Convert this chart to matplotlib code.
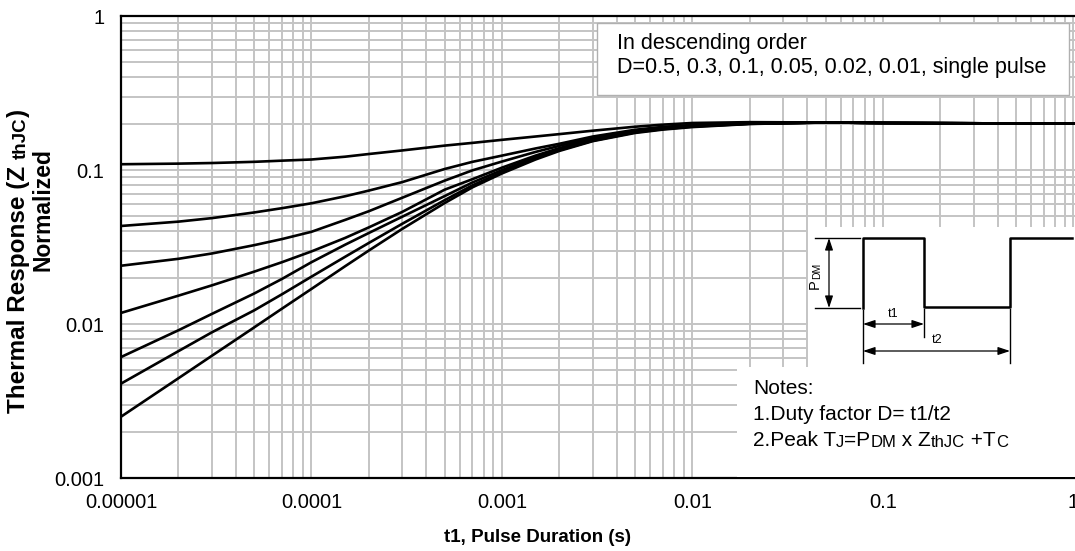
import matplotlib
matplotlib.use("Agg")
import matplotlib.pyplot as plt
from matplotlib.lines import Line2D
from matplotlib.patches import Rectangle, FancyArrowPatch

plt.rcParams['font.family'] = ['Liberation Sans', 'DejaVu Sans']

# pulse duration (s) and normalized Zth for each duty factor
t = [1e-5, 2e-5, 3e-5, 5e-5, 7e-5, 1e-4, 1.5e-4, 2e-4, 3e-4, 5e-4, 7e-4, 1e-3,
     1.5e-3, 2e-3, 3e-3, 5e-3, 7e-3, 1e-2, 2e-2, 5e-2, 1e-1, 1]
z_d05 = [0.109, 0.110, 0.111, 0.113, 0.115, 0.117, 0.122, 0.127, 0.134, 0.144, 0.150, 0.157,
         0.165, 0.171, 0.180, 0.191, 0.197, 0.202, 0.2045, 0.2035, 0.202, 0.200]
z_d03 = [0.0433, 0.0462, 0.0487, 0.0530, 0.0565, 0.0608, 0.0675, 0.0735, 0.0835, 0.1015, 0.113, 0.124,
         0.138, 0.148, 0.165, 0.1825, 0.1905, 0.196, 0.2015, 0.2035, 0.202, 0.200]
z_d01 = [0.0239, 0.0265, 0.0287, 0.0325, 0.0356, 0.0397, 0.0474, 0.054, 0.0661, 0.0853, 0.0995, 0.1135,
         0.131, 0.1435, 0.162, 0.1805, 0.189, 0.195, 0.201, 0.2035, 0.202, 0.200]
z_d005 = [0.0118, 0.01527, 0.01782, 0.02187, 0.0252, 0.0296, 0.0362, 0.0424, 0.0535, 0.0745, 0.0872, 0.1036,
          0.124, 0.1387, 0.159, 0.1785, 0.187, 0.1936, 0.2005, 0.2035, 0.202, 0.200]
z_d002 = [0.0061, 0.0091, 0.01163, 0.01577, 0.01962, 0.0252, 0.0327, 0.039, 0.0498, 0.0677, 0.083, 0.0998,
          0.1211, 0.1365, 0.157, 0.1768, 0.1856, 0.1923, 0.200, 0.2035, 0.202, 0.200]
z_d001 = [0.0041, 0.00666, 0.00883, 0.01226, 0.0156, 0.0203, 0.0273, 0.0336, 0.0448, 0.0637, 0.0795, 0.0969,
          0.1188, 0.1345, 0.155, 0.1755, 0.1845, 0.1915, 0.1995, 0.2035, 0.202, 0.200]
z_single = [0.0025, 0.00444, 0.00622, 0.0095, 0.01258, 0.0169, 0.0237, 0.0300, 0.0415, 0.061, 0.0772, 0.095,
            0.117, 0.133, 0.154, 0.174, 0.183, 0.190, 0.199, 0.2035, 0.202, 0.200]
curves = [z_d05, z_d03, z_d01, z_d005, z_d002, z_d001, z_single]

xticks = [1e-5, 1e-4, 1e-3, 1e-2, 1e-1, 1]
xlabels = ["0.00001", "0.0001", "0.001", "0.01", "0.1", "1"]
yticks = [0.001, 0.01, 0.1, 1]
ylabels = ["0.001", "0.01", "0.1", "1"]

W, H = 1075, 551
fig = plt.figure(figsize=(W / 100, H / 100), dpi=100)
ax = fig.add_axes([121 / W, 73 / H, 962 / W, 462 / H])


def px(x, y):
    return (x / W, 1 - y / H)


for z in curves:
    ax.plot(t, z, color='black', lw=1.9, zorder=3, solid_joinstyle='round')

ax.set_xscale('log')
ax.set_yscale('log')
ax.set_xlim(1e-5, 10 ** 0.05)
ax.set_ylim(1e-3, 1)
ax.set_xticks(xticks)
ax.set_xticklabels(xlabels)
ax.set_yticks(yticks)
ax.set_yticklabels(ylabels)
ax.tick_params(which='both', length=0, labelsize=14.5)
ax.tick_params(axis='x', pad=11)
ax.tick_params(axis='y', pad=12)
ax.grid(True, which='both', color='#c4c4c4', lw=1.4)
ax.set_axisbelow(True)
for s in ax.spines.values():
    s.set_linewidth(1.6)
    s.set_color('black')

# axis titles
fig.text(537 / W, 14 / H, "t1, Pulse Duration (s)", ha='center', va='center',
         fontsize=13.5, fontweight='bold')


def chain(pieces, x, y, rot=0, weight='normal', z=8):
    first = ax.text(x, y, pieces[0][0], transform=fig.transFigure, fontsize=pieces[0][1],
                    fontweight=weight, rotation=rot, zorder=z,
                    ha='right' if rot else 'left', va='bottom' if rot else 'baseline')
    prev = first
    for s, sz in pieces[1:]:
        if rot:
            prev = ax.annotate(s, xy=(1, 1), xycoords=prev, fontsize=sz, fontweight=weight,
                               rotation=rot, ha='right', va='bottom', zorder=z)
        else:
            prev = ax.annotate(s, xy=(1, 0), xycoords=prev, fontsize=sz, fontweight=weight,
                               ha='left', va='bottom', zorder=z)
    return first


chain([("Thermal Response (Z ", 17.5), ("thJC", 13.5), (")", 17.5)],
      *px(30, 413), rot=90, weight='bold')
fig.text(*px(43, 210), "Normalized", rotation=90, ha='center', va='center',
         fontsize=16.5, fontweight='bold')

# description box
ax.add_artist(Rectangle(px(597, 95), 472 / W, 72 / H, transform=fig.transFigure,
                        facecolor='white', edgecolor='#b0b0b0', lw=1, zorder=5))
ax.text(*px(617, 43), "In descending order", transform=fig.transFigure,
        fontsize=15.5, va='center', zorder=8)
ax.text(*px(617, 68), "D=0.5, 0.3, 0.1, 0.05, 0.02, 0.01, single pulse",
        transform=fig.transFigure, fontsize=15.5, va='center', zorder=8)

# white areas for the pulse sketch and notes
ax.add_artist(Rectangle(px(808, 367), 270 / W, 140 / H, transform=fig.transFigure,
                        facecolor='white', edgecolor='none', zorder=5))
ax.add_artist(Rectangle(px(737, 476.5), 340 / W, 110 / H, transform=fig.transFigure,
                        facecolor='white', edgecolor='none', zorder=5))


def seg(points, lw=1.0):
    xs = [p[0] / W for p in points]
    ys = [1 - p[1] / H for p in points]
    ax.add_artist(Line2D(xs, ys, transform=fig.transFigure, color='black', lw=lw, zorder=7))


def arrow(p0, p1):
    ax.add_artist(FancyArrowPatch(px(*p0), px(*p1), transform=fig.transFigure,
                                  arrowstyle='<|-|>,head_length=0.6,head_width=0.2',
                                  mutation_scale=12, color='black', lw=0.9,
                                  shrinkA=0, shrinkB=0, zorder=7))


# pulse train
seg([(863, 308), (863, 238), (924, 238), (924, 307), (1010, 307), (1010, 238), (1072, 238)], lw=1.8)
seg([(815, 238), (860, 238)])
seg([(815, 308), (860, 308)])
seg([(863, 310), (863, 363)])
seg([(924, 309), (924, 337)])
seg([(1010, 309), (1010, 363)])
arrow((829, 238), (829, 308))
arrow((863, 324), (924, 324))
arrow((863, 351), (1010, 351))
ax.text(*px(893, 314), "t1", transform=fig.transFigure, fontsize=9,
        ha='center', va='center', zorder=8)
ax.text(*px(937, 340), "t2", transform=fig.transFigure, fontsize=9,
        ha='center', va='center', zorder=8)
chain([("P", 10.5), ("DM", 7.5)], *px(822, 289), rot=90)

# notes
ax.text(*px(753, 388), "Notes:", transform=fig.transFigure, fontsize=15,
        va='center', zorder=8)
ax.text(*px(753, 415), "1.Duty factor D= t1/t2", transform=fig.transFigure,
        fontsize=15, va='center', zorder=8)
chain([("2.Peak T", 15), ("J", 12), ("=P", 15), ("DM", 12), (" x Z", 15),
       ("thJC", 12), (" +T", 15), ("C", 12)], *px(753, 446))

fig.savefig("out.png", dpi=100)
